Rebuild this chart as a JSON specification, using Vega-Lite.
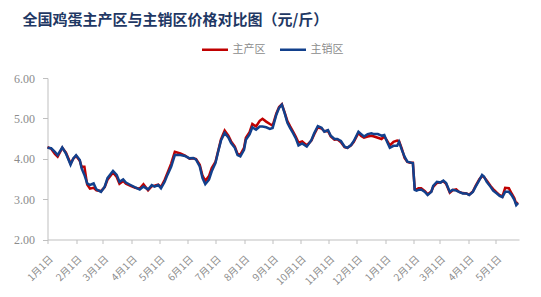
{
  "$schema": "https://vega.github.io/schema/vega-lite/v6.json",
  "width": 471.5,
  "height": 161.5,
  "autosize": "none",
  "padding": {"left": 47.5, "top": 78, "right": 22, "bottom": 57.5},
  "background": "#ffffff",
  "config": {"view": {"stroke": null}},
  "title": {
    "text": "全国鸡蛋主产区与主销区价格对比图（元/斤）",
    "font": "Noto Sans CJK SC",
    "fontSize": 15,
    "fontWeight": "bold",
    "color": "#1F3864",
    "anchor": "start",
    "frame": "group",
    "dx": -25,
    "offset": 7
  },
  "data": {
    "values": [
      {"date": "2024-01-01", "主产区": 4.29, "主销区": 4.27},
      {"date": "2024-01-05", "主产区": 4.25, "主销区": 4.26},
      {"date": "2024-01-09", "主产区": 4.12, "主销区": 4.17},
      {"date": "2024-01-12", "主产区": 4.05, "主销区": 4.09},
      {"date": "2024-01-17", "主产区": 4.27, "主销区": 4.28},
      {"date": "2024-01-21", "主产区": 4.15, "主销区": 4.13},
      {"date": "2024-01-26", "主产区": 3.88, "主销区": 3.85},
      {"date": "2024-01-29", "主产区": 4.00, "主销区": 4.01},
      {"date": "2024-02-01", "主产区": 4.07, "主销区": 4.09},
      {"date": "2024-02-05", "主产区": 3.95, "主销区": 3.97},
      {"date": "2024-02-07", "主产区": 3.80, "主销区": 3.76},
      {"date": "2024-02-10", "主产区": 3.80, "主销区": 3.60},
      {"date": "2024-02-13", "主产区": 3.36, "主销区": 3.39},
      {"date": "2024-02-16", "主产区": 3.26, "主销区": 3.35},
      {"date": "2024-02-20", "主产区": 3.28, "主销区": 3.39},
      {"date": "2024-02-23", "主产区": 3.22, "主销区": 3.24},
      {"date": "2024-02-28", "主产区": 3.20, "主销区": 3.18},
      {"date": "2024-03-03", "主产区": 3.30, "主销区": 3.31},
      {"date": "2024-03-06", "主产区": 3.48, "主销区": 3.52},
      {"date": "2024-03-12", "主产区": 3.66, "主销区": 3.70},
      {"date": "2024-03-16", "主产区": 3.55, "主销区": 3.60},
      {"date": "2024-03-19", "主产区": 3.38, "主销区": 3.43},
      {"date": "2024-03-23", "主产区": 3.45, "主销区": 3.49},
      {"date": "2024-03-26", "主产区": 3.38, "主销区": 3.41},
      {"date": "2024-03-31", "主产区": 3.33, "主销区": 3.35},
      {"date": "2024-04-05", "主产区": 3.28, "主销区": 3.29},
      {"date": "2024-04-10", "主产区": 3.26, "主销区": 3.24},
      {"date": "2024-04-14", "主产区": 3.37, "主销区": 3.31},
      {"date": "2024-04-19", "主产区": 3.22, "主销区": 3.24},
      {"date": "2024-04-23", "主产区": 3.32, "主销区": 3.35},
      {"date": "2024-04-26", "主产区": 3.33, "主销区": 3.31},
      {"date": "2024-04-30", "主产区": 3.36, "主销区": 3.35},
      {"date": "2024-05-03", "主产区": 3.30, "主销区": 3.27},
      {"date": "2024-05-07", "主产区": 3.48, "主销区": 3.43},
      {"date": "2024-05-10", "主产区": 3.65, "主销区": 3.60},
      {"date": "2024-05-14", "主产区": 3.88, "主销区": 3.80},
      {"date": "2024-05-18", "主产区": 4.17, "主销区": 4.09},
      {"date": "2024-05-24", "主产区": 4.13, "主销区": 4.09},
      {"date": "2024-05-29", "主产区": 4.08, "主销区": 4.07},
      {"date": "2024-06-03", "主产区": 4.00, "主销区": 4.01},
      {"date": "2024-06-07", "主产区": 4.01, "主销区": 4.02},
      {"date": "2024-06-10", "主产区": 3.99, "主销区": 3.98},
      {"date": "2024-06-14", "主产区": 3.85, "主销区": 3.81},
      {"date": "2024-06-17", "主产区": 3.58, "主销区": 3.52},
      {"date": "2024-06-20", "主产区": 3.45, "主销区": 3.37},
      {"date": "2024-06-24", "主产区": 3.57, "主销区": 3.48},
      {"date": "2024-06-27", "主产区": 3.77, "主销区": 3.69},
      {"date": "2024-07-01", "主产区": 3.92, "主销区": 3.89},
      {"date": "2024-07-04", "主产区": 4.20, "主销区": 4.18},
      {"date": "2024-07-07", "主产区": 4.48, "主销区": 4.45},
      {"date": "2024-07-11", "主产区": 4.70, "主销区": 4.64},
      {"date": "2024-07-15", "主产区": 4.57, "主销区": 4.53},
      {"date": "2024-07-18", "主产区": 4.43, "主销区": 4.39},
      {"date": "2024-07-22", "主产区": 4.30, "主销区": 4.27},
      {"date": "2024-07-25", "主产区": 4.12, "主销区": 4.09},
      {"date": "2024-07-28", "主产区": 4.10, "主销区": 4.06},
      {"date": "2024-08-01", "主产区": 4.27, "主销区": 4.22},
      {"date": "2024-08-03", "主产区": 4.52, "主销区": 4.47},
      {"date": "2024-08-07", "主产区": 4.66, "主销区": 4.60},
      {"date": "2024-08-10", "主产区": 4.86, "主销区": 4.78},
      {"date": "2024-08-14", "主产区": 4.80, "主销区": 4.72},
      {"date": "2024-08-18", "主产区": 4.94, "主销区": 4.80},
      {"date": "2024-08-21", "主产区": 4.99, "主销区": 4.80},
      {"date": "2024-08-25", "主产区": 4.92, "主销区": 4.78},
      {"date": "2024-08-29", "主产区": 4.86, "主销区": 4.74},
      {"date": "2024-09-01", "主产区": 4.82, "主销区": 4.76},
      {"date": "2024-09-05", "主产区": 5.12, "主销区": 5.09},
      {"date": "2024-09-08", "主产区": 5.28, "主销区": 5.26},
      {"date": "2024-09-11", "主产区": 5.35, "主销区": 5.34},
      {"date": "2024-09-14", "主产区": 5.15, "主销区": 5.13},
      {"date": "2024-09-17", "主产区": 4.93, "主销区": 4.89},
      {"date": "2024-09-20", "主产区": 4.80, "主销区": 4.76},
      {"date": "2024-09-23", "主产区": 4.68, "主销区": 4.64},
      {"date": "2024-09-26", "主产区": 4.55, "主销区": 4.51},
      {"date": "2024-09-29", "主产区": 4.40, "主销区": 4.33},
      {"date": "2024-10-03", "主产区": 4.43, "主销区": 4.38},
      {"date": "2024-10-08", "主产区": 4.33, "主销区": 4.30},
      {"date": "2024-10-13", "主产区": 4.45, "主销区": 4.46},
      {"date": "2024-10-16", "主产区": 4.60, "主销区": 4.63},
      {"date": "2024-10-20", "主产区": 4.78, "主销区": 4.81},
      {"date": "2024-10-24", "主产区": 4.75, "主销区": 4.77},
      {"date": "2024-10-27", "主产区": 4.68, "主销区": 4.67},
      {"date": "2024-10-31", "主产区": 4.69, "主销区": 4.71},
      {"date": "2024-11-03", "主产区": 4.55, "主销区": 4.57},
      {"date": "2024-11-07", "主产区": 4.47, "主销区": 4.49},
      {"date": "2024-11-10", "主产区": 4.48, "主销区": 4.49},
      {"date": "2024-11-14", "主产区": 4.41, "主销区": 4.44},
      {"date": "2024-11-18", "主产区": 4.29, "主销区": 4.30},
      {"date": "2024-11-21", "主产区": 4.27, "主销区": 4.27},
      {"date": "2024-11-25", "主产区": 4.33, "主销区": 4.34},
      {"date": "2024-11-28", "主产区": 4.42, "主销区": 4.44},
      {"date": "2024-12-03", "主产区": 4.64, "主销区": 4.67},
      {"date": "2024-12-06", "主产区": 4.56, "主销区": 4.61},
      {"date": "2024-12-09", "主产区": 4.52, "主销区": 4.55},
      {"date": "2024-12-13", "主产区": 4.55, "主销区": 4.61},
      {"date": "2024-12-17", "主产区": 4.57, "主销区": 4.63},
      {"date": "2024-12-20", "主产区": 4.55, "主销区": 4.61},
      {"date": "2024-12-24", "主产区": 4.52, "主销区": 4.61},
      {"date": "2024-12-28", "主产区": 4.49, "主销区": 4.57},
      {"date": "2024-12-31", "主产区": 4.55, "主销区": 4.59},
      {"date": "2025-01-03", "主产区": 4.45, "主销区": 4.42},
      {"date": "2025-01-06", "主产区": 4.33, "主销区": 4.27},
      {"date": "2025-01-10", "主产区": 4.42, "主销区": 4.32},
      {"date": "2025-01-14", "主产区": 4.45, "主销区": 4.32},
      {"date": "2025-01-16", "主产区": 4.44, "主销区": 4.42},
      {"date": "2025-01-19", "主产区": 4.25, "主销区": 4.22},
      {"date": "2025-01-22", "主产区": 4.02, "主销区": 4.05},
      {"date": "2025-01-25", "主产区": 3.92, "主销区": 3.93},
      {"date": "2025-01-28", "主产区": 3.90, "主销区": 3.91},
      {"date": "2025-01-31", "主产区": 3.90, "主销区": 3.89},
      {"date": "2025-02-02", "主产区": 3.25, "主销区": 3.23},
      {"date": "2025-02-04", "主产区": 3.24, "主销区": 3.21},
      {"date": "2025-02-06", "主产区": 3.27, "主销区": 3.23},
      {"date": "2025-02-09", "主产区": 3.27, "主销区": 3.24},
      {"date": "2025-02-13", "主产区": 3.20, "主销区": 3.18},
      {"date": "2025-02-16", "主产区": 3.12, "主销区": 3.10},
      {"date": "2025-02-20", "主产区": 3.19, "主销区": 3.18},
      {"date": "2025-02-22", "主产区": 3.30, "主销区": 3.33},
      {"date": "2025-02-26", "主产区": 3.40, "主销区": 3.43},
      {"date": "2025-03-02", "主产区": 3.42, "主销区": 3.41},
      {"date": "2025-03-05", "主产区": 3.44, "主销区": 3.46},
      {"date": "2025-03-08", "主产区": 3.38, "主销区": 3.40},
      {"date": "2025-03-12", "主产区": 3.16, "主销区": 3.18},
      {"date": "2025-03-15", "主产区": 3.22, "主销区": 3.23},
      {"date": "2025-03-19", "主产区": 3.24, "主销区": 3.21},
      {"date": "2025-03-22", "主产区": 3.18, "主销区": 3.18},
      {"date": "2025-03-26", "主产区": 3.15, "主销区": 3.14},
      {"date": "2025-03-30", "主产区": 3.14, "主销区": 3.14},
      {"date": "2025-04-02", "主产区": 3.11, "主销区": 3.10},
      {"date": "2025-04-06", "主产区": 3.19, "主销区": 3.18},
      {"date": "2025-04-09", "主产区": 3.33, "主销区": 3.31},
      {"date": "2025-04-13", "主产区": 3.49, "主销区": 3.47},
      {"date": "2025-04-16", "主产区": 3.57, "主销区": 3.60},
      {"date": "2025-04-18", "主产区": 3.55, "主销区": 3.56},
      {"date": "2025-04-21", "主产区": 3.46, "主销区": 3.43},
      {"date": "2025-04-25", "主产区": 3.33, "主销区": 3.31},
      {"date": "2025-04-28", "主产区": 3.25, "主销区": 3.21},
      {"date": "2025-05-02", "主产区": 3.16, "主销区": 3.14},
      {"date": "2025-05-05", "主产区": 3.10, "主销区": 3.08},
      {"date": "2025-05-08", "主产区": 3.06, "主销区": 3.05},
      {"date": "2025-05-11", "主产区": 3.28, "主销区": 3.18},
      {"date": "2025-05-15", "主产区": 3.27, "主销区": 3.18},
      {"date": "2025-05-18", "主产区": 3.14, "主销区": 3.10},
      {"date": "2025-05-21", "主产区": 3.02, "主销区": 2.98},
      {"date": "2025-05-23", "主产区": 2.88, "主销区": 2.85},
      {"date": "2025-05-25", "主产区": 2.92, "主销区": 2.90}
    ]
  },
  "transform": [{"fold": ["主产区", "主销区"], "as": ["series", "price"]}],
  "mark": {"type": "line", "strokeWidth": 2.5, "interpolate": "linear"},
  "encoding": {
    "x": {
      "field": "date",
      "type": "temporal",
      "scale": {
        "type": "utc",
        "domain": [
          {"year": 2024, "month": 1, "date": 1, "utc": true},
          {"year": 2025, "month": 5, "date": 26, "utc": true}
        ]
      },
      "axis": {
        "title": null,
        "format": "%-m月%-d日",
        "tickCount": {"interval": "month", "step": 1},
        "labelAngle": -45,
        "labelFont": "Noto Sans CJK SC",
        "labelFontSize": 10,
        "labelColor": "#8c8c8c",
        "labelPadding": 10,
        "labelOverlap": false,
        "labelFlush": false,
        "tickSize": 4,
        "tickColor": "#bfbfbf",
        "domainColor": "#bfbfbf",
        "grid": false
      }
    },
    "y": {
      "field": "price",
      "type": "quantitative",
      "scale": {"domain": [2, 6], "nice": false, "zero": false},
      "axis": {
        "title": null,
        "values": [2, 3, 4, 5, 6],
        "format": ".2f",
        "labelFont": "Liberation Serif",
        "labelFontSize": 12,
        "labelColor": "#8c8c8c",
        "labelPadding": 8,
        "tickSize": 5,
        "tickColor": "#bfbfbf",
        "domainColor": "#bfbfbf",
        "grid": false
      }
    },
    "color": {
      "field": "series",
      "type": "nominal",
      "scale": {"domain": ["主产区", "主销区"], "range": ["#C00000", "#12408C"]},
      "legend": {
        "title": null,
        "orient": "none",
        "legendX": 153,
        "legendY": -43,
        "direction": "horizontal",
        "symbolType": "stroke",
        "symbolSize": 676,
        "symbolStrokeWidth": 2.5,
        "labelFont": "Noto Sans CJK SC",
        "labelFontSize": 11,
        "labelColor": "#8c8c8c",
        "labelOffset": 3,
        "columnPadding": 9,
        "padding": 0
      }
    }
  }
}
